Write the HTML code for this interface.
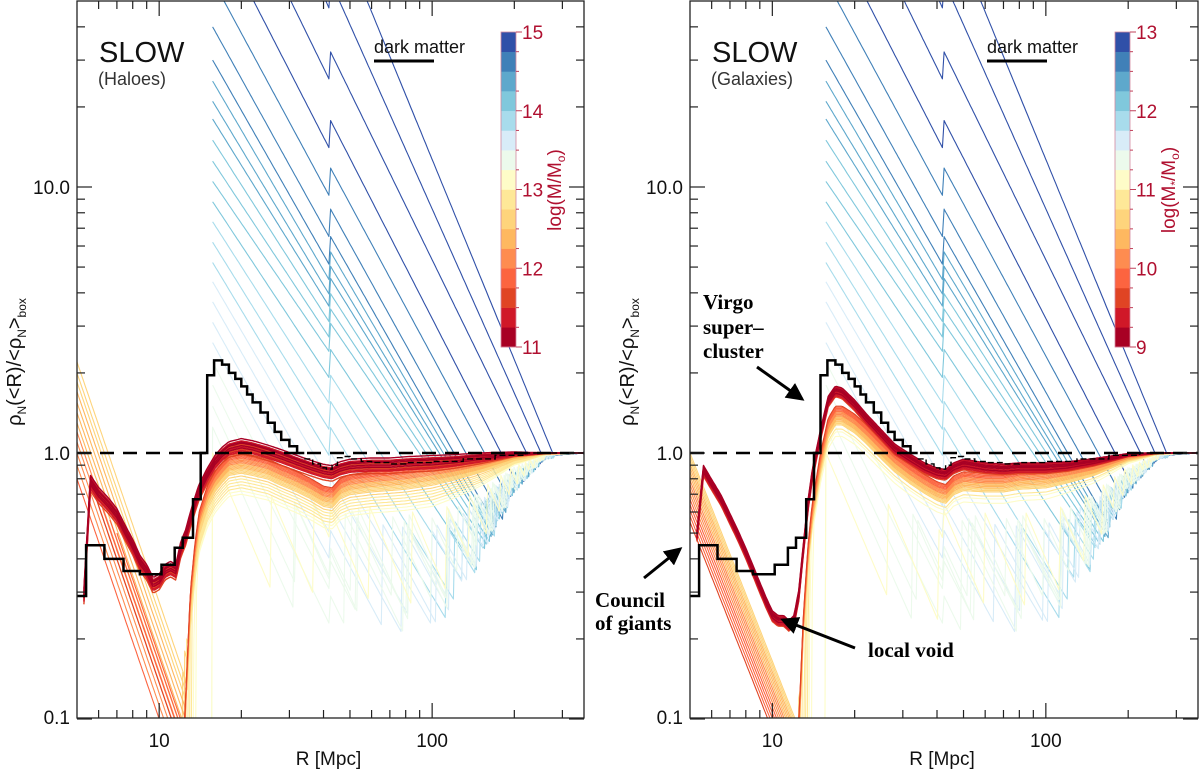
<!DOCTYPE html>
<html><head><meta charset="utf-8">
<style>
html,body{margin:0;padding:0;background:#fff;width:1200px;height:773px;overflow:hidden;}
svg{display:block;font-family:"Liberation Sans","DejaVu Sans",sans-serif;}
</style></head>
<body>
<svg id="fig" width="1200" height="773" viewBox="0 0 1200 773" xmlns="http://www.w3.org/2000/svg">
<defs>
<clipPath id="clipL"><rect x="77" y="1" width="507" height="717"/></clipPath>
<clipPath id="clipR"><rect x="690" y="1" width="508" height="717"/></clipPath>
<marker id="arr" markerWidth="6" markerHeight="6" refX="5" refY="3" orient="auto" markerUnits="strokeWidth"><path d="M0,0 L6,3 L0,6 z" fill="#000"/></marker>
</defs>
<g id="layer"></g>
</svg>
<script>
// ---------- data ----------
const colorBins = ["#a80024","#d01828","#e04424","#fc6440","#fe8c50","#feb860","#fed47c","#fee898","#fefcc8","#ecfaec","#d8ecf8","#a8dcec","#80c8dc","#5ea8cc","#4080b8","#3050a8"];
const knotR = [5,5.3,5.6,6,6.5,7,7.5,8,8.5,9,9.5,10,10.5,11,11.5,12,12.5,13,13.5,14,15,16,17,18,20,22,25,28,32,36,40,43,46,50,60,70,80,100,120,150,200,250,300,360];
const profRedL = [0.25,0.3,0.8,0.72,0.66,0.6,0.52,0.46,0.4,0.37,0.33,0.34,0.37,0.38,0.37,0.45,0.5,0.58,0.66,0.74,0.85,0.95,1.02,1.07,1.1,1.08,1.04,1.0,0.95,0.91,0.88,0.87,0.9,0.92,0.93,0.93,0.94,0.95,0.96,0.98,1.0,1.0,1.0,1.0];
const profOrangeL = [0.02,0.02,0.02,0.02,0.02,0.02,0.02,0.02,0.02,0.02,0.02,0.02,0.02,0.02,0.02,0.05,0.12,0.3,0.45,0.6,0.75,0.85,0.92,0.98,1.0,0.98,0.95,0.9,0.85,0.8,0.75,0.74,0.8,0.83,0.85,0.86,0.87,0.9,0.92,0.95,0.99,1.0,1.0,1.0];
const profClusterL = [0.9,0.9,0.9,0.9,0.9,0.9,0.9,0.9,0.9,0.9,0.9,0.9,0.9,0.9,0.9,0.9,0.9,0.9,0.9,0.9,0.9,0.9,0.9,0.9,0.9,0.88,0.86,0.85,0.84,0.82,0.8,0.8,0.8,0.8,0.78,0.76,0.75,0.75,0.78,0.85,0.95,0.99,1.0,1.0];
const profRedR = [0.3,0.5,0.88,0.78,0.68,0.58,0.5,0.43,0.37,0.32,0.28,0.25,0.24,0.24,0.23,0.24,0.3,0.45,0.65,0.85,1.2,1.6,1.75,1.72,1.55,1.38,1.2,1.06,0.97,0.9,0.86,0.85,0.9,0.93,0.9,0.89,0.9,0.9,0.91,0.94,0.99,1.0,1.0,1.0];
const profOrangeR = [0.02,0.02,0.02,0.02,0.02,0.02,0.02,0.02,0.02,0.02,0.02,0.02,0.02,0.02,0.02,0.05,0.1,0.25,0.45,0.65,1.0,1.35,1.5,1.5,1.4,1.28,1.12,1.0,0.9,0.83,0.78,0.76,0.82,0.85,0.84,0.84,0.86,0.87,0.89,0.92,0.98,1.0,1.0,1.0];
const profClusterR = [0.8,0.8,0.8,0.8,0.8,0.8,0.8,0.8,0.8,0.8,0.8,0.8,0.8,0.8,0.8,0.8,0.8,0.8,0.8,0.8,0.8,0.8,0.8,0.8,0.8,0.78,0.76,0.75,0.72,0.66,0.6,0.62,0.68,0.7,0.7,0.7,0.7,0.7,0.74,0.8,0.93,0.99,1.0,1.0];
const convR = [5,100,150,200,260,360];
const convW = [0,0,0.3,0.7,0.95,1];
const bumpR = [42];
const bumpF = [1.3];
// dark-matter step curve
const dmR = [5,5.4,6.3,7.4,8.5,10.2,11.4,12.2,13.3,14.2,15.0,15.9,17,18,19,20,21,22,23.5,25,26.5,28,30,32,34,36.5,39,41,43,45,47,50,55,60,70,80,100,130,170,220,360];
const dmV = [0.29,0.45,0.40,0.36,0.35,0.38,0.44,0.48,0.67,1.0,1.96,2.23,2.15,2.0,1.9,1.78,1.66,1.55,1.42,1.3,1.2,1.12,1.06,1.0,0.95,0.91,0.88,0.87,0.9,0.96,0.97,0.95,0.93,0.92,0.91,0.92,0.93,0.95,0.98,1.0];
// left panel curves (haloes)
const massL = [11.0,11.06,11.12,11.18,11.24,11.3,11.36,11.42,11.48,11.54,11.6,11.66,
 11.72,11.78,11.84,11.9,11.96,12.02,12.08,12.14,12.2,12.26,12.32,12.38,12.44,12.5,12.56,12.62,
 12.68,12.74,12.8,12.86,12.92,12.98,13.04,13.1,
 13.2,13.26,13.33,13.4,13.46,13.53,13.6,13.66,13.73,13.8,13.86,13.93,14.0,14.07,
 14.15,14.22,14.3,14.37,14.45,14.52,14.6,14.67,14.75,14.82,14.9,15.0];
const startRL = [5.3,5.3,5.3,5.3,5.3,5.3,5.3,5.3,5.3,5.3,5.3,5.3,
 5.8,6.2,6.6,7.0,5,5,5,5,5,5,5,5,5,5,5,5,
 12.2,12.4,12.6,12.8,13.0,13.2,13.4,13.7,
 15.7,15.7,15.7,15.7,15.7,15.7,15.7,15.7,15.7,15.7,15.7,15.7,15.7,15.7,
 15.7,15.7,15.7,15.7,15.7,15.7,15.7,15.7,15.7,15.7,15.7,15.7];
const startVL = [0,0,0,0,0,0,0,0,0,0,0,0,
 0.7,0.62,0.56,0.5,0.8,0.9,1.0,1.1,1.2,1.3,1.42,1.55,1.7,1.85,2.0,2.2,
 0.15,0.18,0.2,0.16,0.22,0.25,0.2,0.3,
 1.0,1.25,1.5,1.8,2.2,2.6,3.1,3.7,4.4,5.2,6.2,7.4,8.8,10.5,
 12.5,15,18,21,25,30,40,60,100,200,450,1000];
const slopeL = [3.6,3.6,3.6,3.6,3.6,3.6,3.6,3.6,3.6,3.6,3.6,3.6,
 3.0,3.0,3.0,3.0,3.0,3.0,3.0,3.0,3.0,3.0,3.0,3.0,3.0,3.0,3.0,3.0,
 3.6,3.6,3.6,3.6,3.6,3.6,3.6,3.6,
 2.4,2.3,2.2,2.1,2.0,1.9,1.85,1.8,1.75,1.7,1.65,1.6,1.55,1.5,
 1.55,1.6,1.65,1.7,1.75,1.8,1.85,1.9,2.0,2.1,2.3,2.5];
const scaleL = [1.0,0.97,1.03,0.95,0.99,0.93,1.01,0.96,0.92,0.98,0.94,0.9,
 1.0,0.99,0.98,0.97,0.96,0.95,0.94,0.93,0.92,0.91,0.9,0.89,0.88,0.87,0.86,0.85,
 0.84,0.82,0.8,0.78,0.76,0.74,0.72,0.7,
 0.8,0.78,0.76,0.74,0.72,0.7,0.7,0.68,0.68,0.66,0.66,0.65,0.65,0.64,
 0.64,0.63,0.62,0.62,0.6,0.6,0.6,0.58,0.58,0.56,0.55,0.55];
const dropL = [0.995,0.995,0.995,0.995,0.995,0.995,0.995,0.995,0.995,0.995,0.995,0.995,
 0.995,0.995,0.995,0.995,0.995,0.995,0.995,0.995,0.995,0.995,0.995,0.995,0.995,0.995,0.995,0.995,
 0.995,0.995,0.995,0.995,0.995,0.995,0.995,0.995,
 0.45,0.4,0.5,0.38,0.45,0.42,0.4,0.48,0.45,0.4,0.44,0.5,0.42,0.46,
 0.5,0.45,0.5,0.42,0.48,0.5,0.45,0.5,0.55,0.6,0.6,0.6];
// right panel curves (galaxies)
const massR = [9.0,9.06,9.12,9.18,9.24,9.3,9.36,9.42,9.48,9.54,9.6,9.66,
 9.72,9.78,9.84,9.9,9.96,10.02,10.08,10.14,10.2,10.26,10.32,10.38,10.44,10.5,10.56,10.62,
 10.68,10.74,10.8,10.86,10.92,10.98,11.04,11.1,
 11.2,11.26,11.33,11.4,11.46,11.53,11.6,11.66,11.73,11.8,11.86,11.93,12.0,12.07,
 12.15,12.22,12.3,12.37,12.45,12.52,12.6,12.67,12.75,12.82,12.9,13.0];
const startRR = [5.3,5.3,5.3,5.3,5.3,5.3,5.3,5.3,5.3,5.3,5.3,5.3,
 5,5,5,5,5,5,5,5,5,5,5,5,5,5,5,5,
 12.5,12.7,12.9,13.1,13.3,13.5,13.7,14.0,
 15.7,15.7,15.7,15.7,15.7,15.7,15.7,15.7,15.7,15.7,15.7,15.7,15.7,15.7,
 15.7,15.7,15.7,15.7,15.7,15.7,15.7,15.7,15.7,15.7,15.7,15.7];
const startVR = [0,0,0,0,0,0,0,0,0,0,0,0,
 0.55,0.58,0.61,0.64,0.67,0.7,0.73,0.76,0.79,0.82,0.85,0.88,0.91,0.94,0.97,1.0,
 0.12,0.15,0.18,0.14,0.2,0.22,0.25,0.3,
 1.0,1.25,1.5,1.8,2.2,2.6,3.1,3.7,4.4,5.2,6.2,7.4,8.8,10.5,
 12.5,15,18,21,25,30,40,60,100,200,450,1000];
const slopeR = [3,3,3,3,3,3,3,3,3,3,3,3,
 2.6,2.6,2.6,2.6,2.6,2.6,2.6,2.6,2.6,2.6,2.6,2.6,2.6,2.6,2.6,2.6,
 3,3,3,3,3,3,3,3,
 2.4,2.3,2.2,2.1,2.0,1.9,1.85,1.8,1.75,1.7,1.65,1.6,1.55,1.5,
 1.55,1.6,1.65,1.7,1.75,1.8,1.85,1.9,2.0,2.1,2.3,2.5];
const scaleR = [1.0,0.98,1.02,0.96,0.99,0.95,1.01,0.97,0.94,0.99,0.96,0.93,
 1.0,0.99,0.98,0.97,0.96,0.95,0.94,0.93,0.92,0.91,0.9,0.89,0.88,0.87,0.86,0.85,
 0.95,0.92,0.9,0.87,0.85,0.82,0.8,0.77,
 0.85,0.83,0.81,0.8,0.78,0.77,0.76,0.75,0.74,0.73,0.72,0.71,0.7,0.7,
 0.7,0.69,0.68,0.68,0.67,0.66,0.65,0.64,0.63,0.62,0.61,0.6];
const dropR = dropL.slice();
// ---------- helpers ----------
const NS = "http://www.w3.org/2000/svg";
const layer = document.getElementById('layer');
const LOGMIN = Math.log10(5), LOGSPAN = Math.log10(360) - Math.log10(5);
const panels = [
 {L:77,R:584,T:1,B:718,clip:'clipL',name:'haloes',mass:massL,sR:startRL,sV:startVL,k:slopeL,sc:scaleL,dr:dropL,
  profs:[profRedL,profOrangeL,profClusterL],mmin:11,cbX:501,cbTicks:["11","12","13","14","15"],title:"(Haloes)",cbLabel:"M"},
 {L:690,R:1198,T:1,B:718,clip:'clipR',name:'galaxies',mass:massR,sR:startRR,sV:startVR,k:slopeR,sc:scaleR,dr:dropR,
  profs:[profRedR,profOrangeR,profClusterR],mmin:9,cbX:1115,cbTicks:["9","10","11","12","13"],title:"(Galaxies)",cbLabel:"M*"}
];
function X(p,r){return p.L + (Math.log10(r)-LOGMIN)/LOGSPAN*(p.R-p.L);}
function Y(v){return 453 - 266*Math.log10(v);}
function interpLog(xs,ys,r){
  if(r<=xs[0]) return ys[0];
  for(let i=1;i<xs.length;i++){ if(r<=xs[i]){const t=(Math.log10(r)-Math.log10(xs[i-1]))/(Math.log10(xs[i])-Math.log10(xs[i-1]));return Math.pow(10,Math.log10(ys[i-1])+t*(Math.log10(ys[i])-Math.log10(ys[i-1])));}}
  return ys[ys.length-1];
}
function interpLin(xs,ys,r){
  if(r<=xs[0]) return ys[0];
  for(let i=1;i<xs.length;i++){ if(r<=xs[i]){const t=(r-xs[i-1])/(xs[i]-xs[i-1]);return ys[i-1]+t*(ys[i]-ys[i-1]);}}
  return ys[ys.length-1];
}
function mk(tag,attrs,parent){const e=document.createElementNS(NS,tag);for(const k in attrs)e.setAttribute(k,attrs[k]);(parent||layer).appendChild(e);return e;}
function groupOf(i){return i<12?0:(i<36?1:2);}

panels.forEach((p,pi)=>{
  const g = mk('g',{});
  
  
  const curves = mk('g',{'clip-path':'url(#'+p.clip+')'},g);
  
  
  for(let i=p.mass.length-1;i>=0;i--){
    const prof = p.profs[groupOf(i)];
    const s = p.sc[i], k = p.k[i], d = p.dr[i];
    let r = p.sR[i];
    let v = p.sV[i]>0 ? p.sV[i] : interpLog(knotR,prof,r)*s;
    const pts=[];
    if(p.sR[i]>12 && v<1.5) pts.push([X(p,r*0.99),Y(0.05)]);
    pts.push([X(p,r),Y(v)]);
    let onDiag = true;
    const step=0.006;
    for(let lr=Math.log10(r)+step; lr<=Math.log10(360)+1e-9; lr+=step){
      const R2=Math.pow(10,lr);
      let vd = v*Math.pow(r/R2,k);
      for(let b=0;b<bumpR.length;b++){ if(r<bumpR[b] && R2>=bumpR[b] && onDiag) vd*=bumpF[b]; }
      const w = interpLin(convR,convW,R2);
      const se = s + (1-s)*w;
      const t = interpLog(knotR,prof,R2)*se;
      const de = d + (1-d)*w;
      if(vd < t*de){ v=t; onDiag=false; } else { v=vd; onDiag=true; }
      r=R2;
      pts.push([X(p,r),Y(Math.max(v,0.03))]);
    }
    let bin=Math.floor((p.mass[i]-p.mmin)/0.25); bin=Math.max(0,Math.min(15,bin));
    const path = mk('path',{d:'M'+pts.map(q=>q[0].toFixed(1)+','+q[1].toFixed(1)).join('L'),fill:'none',stroke:colorBins[bin],'stroke-width':i<12?1.4:1.1,'stroke-linejoin':'round'},curves);
    
    
  }
  const ml = mk('line',{x1:p.L,x2:p.R,y1:Y(1),y2:Y(1),stroke:'#000','stroke-width':2.5,'stroke-dasharray':'14 9'},g);
  
  
  let dThick='', dThin='';
  for(let j=0;j<dmV.length;j++){
    const x1=X(p,dmR[j]), x2=X(p,dmR[j+1]), y=Y(dmV[j]);
    if(dmR[j]<34){ dThick+=(dThick===''?'M':'L')+x1.toFixed(1)+','+y.toFixed(1)+'L'+x2.toFixed(1)+','+y.toFixed(1); }
    else { dThin+=(dThin===''?'M':'L')+x1.toFixed(1)+','+y.toFixed(1)+'L'+x2.toFixed(1)+','+y.toFixed(1); }
  }
  const dm1 = mk('path',{d:dThick,fill:'none',stroke:'#000','stroke-width':2.5},g);
  
  
  const dm2 = mk('path',{d:dThin,fill:'none',stroke:'#000','stroke-width':1.4,'stroke-dasharray':'6 3'},g);
  
  
  const fr = mk('rect',{x:p.L,y:p.T,width:p.R-p.L,height:p.B-p.T,fill:'none',stroke:'#222','stroke-width':1.3},g);
  
  
  const xt=[6,7,8,9,10,20,30,40,50,60,70,80,90,100,200,300];
  xt.forEach(t=>{
    const x=X(p,t), len=(t===10||t===100)?15:8;
    mk('line',{x1:x,x2:x,y1:p.B,y2:p.B-len,stroke:'#222','stroke-width':1.2},g);
    mk('line',{x1:x,x2:x,y1:p.T,y2:p.T+len,stroke:'#222','stroke-width':1.2},g);
  });
  ["10","100"].forEach(lbl=>{
    const tx=mk('text',{x:X(p,+lbl),y:747,'font-size':19,'text-anchor':'middle',fill:'#111'},g);
    tx.textContent=lbl;
    
    
  });
  const xl=mk('text',{x:(p.L+p.R)/2-2,y:765,'font-size':19,'text-anchor':'middle',fill:'#111'},g);
  xl.textContent='R [Mpc]';
  
  
  const yt=[0.1,0.2,0.3,0.4,0.5,0.6,0.7,0.8,0.9,1,2,3,4,5,6,7,8,9,10,20,30,40];
  yt.forEach(t=>{
    const y=Y(t), len=(t===0.1||t===1||t===10)?15:8;
    mk('line',{x1:p.L,x2:p.L+len,y1:y,y2:y,stroke:'#222','stroke-width':1.2},g);
    mk('line',{x1:p.R,x2:p.R-len,y1:y,y2:y,stroke:'#222','stroke-width':1.2},g);
  });
  [["0.1",0.1],["1.0",1],["10.0",10]].forEach(a=>{
    const tx=mk('text',{x:p.L-7,y:Math.min(Y(a[1])+7,724),'font-size':19,'text-anchor':'end',fill:'#111'},g);
    tx.textContent=a[0];
    
    
  });
  const yl=mk('text',{transform:'translate('+(p.L-56)+',362) rotate(-90)','font-size':20,'text-anchor':'middle',fill:'#111'},g);
  yl.innerHTML='ρ<tspan font-size="12" dy="5">N</tspan><tspan dy="-5">(&lt;R)/&lt;ρ</tspan><tspan font-size="12" dy="5">N</tspan><tspan dy="-5">&gt;</tspan><tspan font-size="12" dy="5">box</tspan>';
  
  
  const t1=mk('text',{x:p.L+22,y:62,'font-size':29,fill:'#111'},g);
  t1.textContent='SLOW';
  
  
  const t2=mk('text',{x:p.L+21,y:85,'font-size':18,fill:'#333'},g);
  t2.textContent=p.title;
  
  
  const dmt=mk('text',{x:p.L+297,y:53,'font-size':18,fill:'#111'},g);
  dmt.textContent='dark matter';
  
  
  const dml=mk('line',{x1:p.L+297,x2:p.L+357,y1:61,y2:61,stroke:'#000','stroke-width':3},g);
  
  
  const cb=mk('g',{},g);
  
  
  const cbTop=32, cbBot=347, bh=(cbBot-cbTop)/16;
  for(let b=0;b<16;b++){
    mk('rect',{x:p.cbX,y:cbBot-(b+1)*bh,width:15,height:bh+0.3,fill:colorBins[b]},cb);
  }
  mk('rect',{x:p.cbX,y:cbTop,width:15,height:cbBot-cbTop,fill:'none',stroke:'#d58aa0','stroke-width':0.8},cb);
  for(let b=0;b<=16;b++){
    const y=cbBot-b*bh;
    mk('line',{x1:p.cbX+15,x2:p.cbX+(b%4===0?21:18),y1:y,y2:y,stroke:'#c0405a','stroke-width':1},cb);
  }
  p.cbTicks.forEach((lbl,j)=>{
    const tx=mk('text',{x:p.cbX+21,y:cbBot-j*4*bh+7,'font-size':19,fill:'#b01030'},cb);
    tx.textContent=lbl;
    
    
  });
  const cl=mk('text',{transform:'translate('+(p.cbX+60)+',190) rotate(-90)','font-size':19,'text-anchor':'middle',fill:'#b01030'},cb);
  if(p.cbLabel==='M') cl.innerHTML='log(M/M<tspan font-size="12" dy="4">o</tspan><tspan dy="-4">)</tspan>';
  else cl.innerHTML='log(M<tspan font-size="12" dy="4">*</tspan><tspan dy="-4">/M</tspan><tspan font-size="12" dy="4">o</tspan><tspan dy="-4">)</tspan>';
  
  
});

const ann = mk('g',{'font-family':'"Liberation Serif",serif','font-weight':'bold','font-size':21,fill:'#000'});


[["Virgo",703,309],["super–",703,334],["cluster",703,358],["Council",595,607],["of giants",595,630],["local void",868,657]].forEach(a=>{
  const t=mk('text',{x:a[1],y:a[2]},ann);
  t.textContent=a[0];
  
  
});
[[757,367,802,399],[644,578,680,549],[855,648,783,620]].forEach(a=>{
  const l=mk('line',{x1:a[0],y1:a[1],x2:a[2],y2:a[3],stroke:'#000','stroke-width':3,'marker-end':'url(#arr)'},ann);
  
  
});
</script>
</body></html>
